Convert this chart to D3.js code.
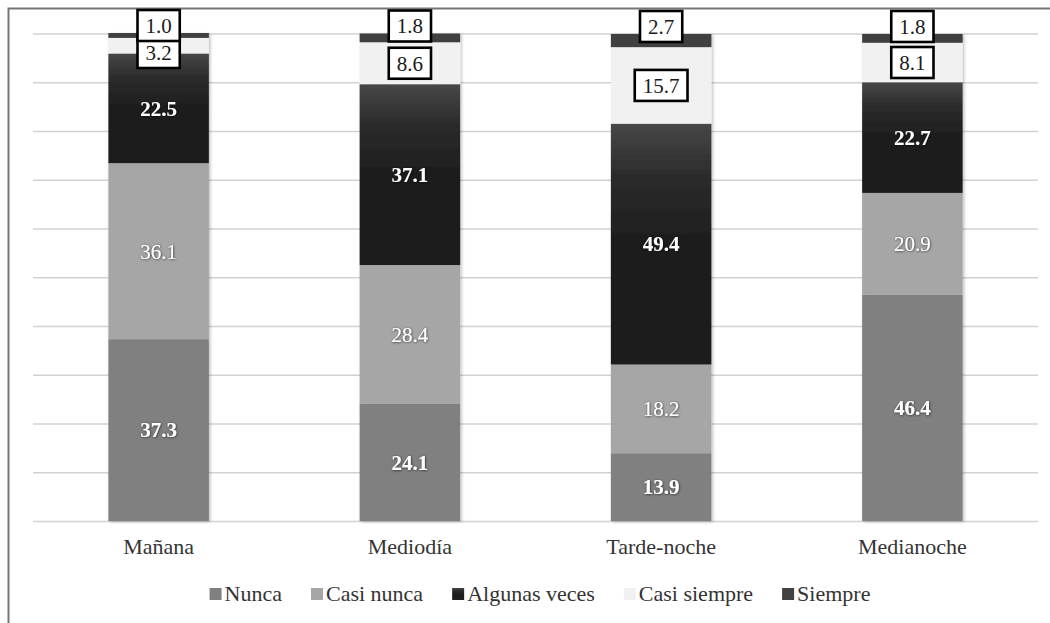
<!DOCTYPE html>
<html>
<head>
<meta charset="utf-8">
<script src="https://cdn.jsdelivr.net/npm/d3@7"></script>
<style>
  html, body { margin: 0; padding: 0; background: #ffffff; }
  svg { display: block; }
  text { font-family: "Liberation Serif", "Times New Roman", serif; }
</style>
</head>
<body>
<svg id="chart" width="1050" height="623"></svg>
<script>
// Time-of-day categories on the x axis
const categories = ["Mañana", "Mediodía", "Tarde-noche", "Medianoche"];

// Response frequencies (%) for each category, bottom to top
const nunca        = [37.3, 24.1, 13.9, 46.4];
const casiNunca    = [36.1, 28.4, 18.2, 20.9];
const algunasVeces = [22.5, 37.1, 49.4, 22.7];
const casiSiempre  = [3.2, 8.6, 15.7, 8.1];
const siempre      = [1.0, 1.8, 2.7, 1.8];

const seriesNames = ["Nunca", "Casi nunca", "Algunas veces", "Casi siempre", "Siempre"];
const seriesValues = [nunca, casiNunca, algunasVeces, casiSiempre, siempre];

// Gridline tick values (%)
const yTicks = [0, 10, 20, 30, 40, 50, 60, 70, 80, 90, 100];

const W = 1050, H = 623;
const plot = { left: 33, right: 1038, top: 33.5, bottom: 521 };

const svg = d3.select("#chart");
const defs = svg.append("defs");

// Dark vertical gradient for "Algunas veces"
const grad = defs.append("linearGradient")
  .attr("id", "gradDark").attr("x1", 0).attr("y1", 0).attr("x2", 0).attr("y2", 1);
grad.append("stop").attr("offset", "0%").attr("stop-color", "#474747");
grad.append("stop").attr("offset", "22%").attr("stop-color", "#2b2b2b");
grad.append("stop").attr("offset", "55%").attr("stop-color", "#1b1b1b");
grad.append("stop").attr("offset", "100%").attr("stop-color", "#1f1f1f");

// Soft shadow under the bars
const shadow = defs.append("filter").attr("id", "barShadow")
  .attr("x", "-10%").attr("y", "-10%").attr("width", "130%").attr("height", "130%");
shadow.append("feDropShadow").attr("dx", 1.5).attr("dy", 1).attr("stdDeviation", 1.5)
  .attr("flood-color", "#000").attr("flood-opacity", 0.25);

// Dark halo behind white value labels
const halo = defs.append("filter").attr("id", "textHalo")
  .attr("x", "-20%").attr("y", "-30%").attr("width", "140%").attr("height", "160%");
halo.append("feDropShadow").attr("dx", 0.5).attr("dy", 0.5).attr("stdDeviation", 1)
  .attr("flood-color", "#000").attr("flood-opacity", 0.7);

const fills = {
  "Nunca": "#808080",
  "Casi nunca": "#a6a6a6",
  "Algunas veces": "url(#gradDark)",
  "Casi siempre": "#f1f1f1",
  "Siempre": "#414141"
};

// Outer frame (left and top edges visible)
svg.append("rect")
  .attr("x", 8.5).attr("y", 8.5).attr("width", W + 20).attr("height", H + 20)
  .attr("fill", "none").attr("stroke", "#767676").attr("stroke-width", 2);

const x = d3.scaleBand()
  .domain(categories)
  .range([plot.left, plot.right])
  .paddingInner(0.6)
  .paddingOuter(0.3);

const y = d3.scaleLinear().domain([0, 100]).range([plot.bottom, plot.top]);

// Horizontal gridlines
const yAxis = d3.axisLeft(y).tickValues(yTicks)
  .tickSize(-(plot.right - plot.left)).tickFormat("");
const gy = svg.append("g").attr("transform", `translate(${plot.left},0)`).call(yAxis);
gy.select(".domain").remove();
gy.selectAll(".tick line").attr("stroke", "#d2d2d2").attr("stroke-width", 1.6);

// Category labels
const xAxis = d3.axisBottom(x).tickSize(0).tickPadding(0);
const gx = svg.append("g").attr("transform", `translate(0,${plot.bottom})`).call(xAxis);
gx.select(".domain").remove();
gx.selectAll(".tick text")
  .attr("y", 33).attr("dy", 0)
  .style("font-family", '"Liberation Serif", "Times New Roman", serif')
  .style("font-size", "22px").attr("fill", "#333333");

// Stack the series
const table = categories.map((c, i) => {
  const row = { category: c };
  seriesNames.forEach((s, k) => { row[s] = seriesValues[k][i]; });
  return row;
});
const stacked = d3.stack().keys(seriesNames)(table);

const barsG = svg.append("g").attr("filter", "url(#barShadow)");
stacked.forEach(layer => {
  barsG.selectAll(null)
    .data(layer)
    .join("rect")
    .attr("x", d => x(d.data.category))
    .attr("width", x.bandwidth())
    .attr("y", d => y(d[1]))
    .attr("height", d => y(d[0]) - y(d[1]))
    .attr("fill", fills[layer.key]);
});

// Value labels inside the lower three segments
const labelsG = svg.append("g");
const fontSize = 21;
stacked.slice(0, 3).forEach(layer => {
  labelsG.selectAll(null)
    .data(layer)
    .join("text")
    .attr("x", d => x(d.data.category) + x.bandwidth() / 2)
    .attr("y", d => (y(d[0]) + y(d[1])) / 2)
    .attr("dy", "0.35em")
    .attr("text-anchor", "middle")
    .attr("fill", "#ffffff")
    .attr("filter", "url(#textHalo)")
    .style("font-size", fontSize + "px")
    .style("font-weight", layer.key === "Casi nunca" ? "normal" : "bold")
    .text(d => d[1] - d[0] >= 0 ? (d.data[layer.key]).toFixed(1) : "");
});

// Boxed labels for the two top segments
const boxH = 31;
function boxedLabel(cx, cy, value) {
  const g = labelsG.append("g");
  const rect = g.append("rect");
  const t = g.append("text")
    .attr("x", cx).attr("y", cy).attr("dy", "0.35em")
    .attr("text-anchor", "middle").attr("fill", "#1a1a1a")
    .style("font-size", fontSize + "px")
    .text(value.toFixed(1));
  const tw = t.node().getComputedTextLength();
  const bw = tw + 16;
  rect.attr("x", cx - bw / 2).attr("y", cy - boxH / 2)
    .attr("width", bw).attr("height", boxH)
    .attr("fill", "#ffffff").attr("stroke", "#000000").attr("stroke-width", 2.6);
}

const casiLayer = stacked[3];
const siempreLayer = stacked[4];
categories.forEach((c, i) => {
  const cx = x(c) + x.bandwidth() / 2;
  const s = siempreLayer[i];
  const sCenter = y(s[1]) - 7.5;
  const cs = casiLayer[i];
  let cCenter = (y(cs[0]) + y(cs[1])) / 2;
  const minCenter = sCenter + boxH / 2 + boxH / 2 - 4;
  if (cCenter < minCenter) cCenter = minCenter;
  boxedLabel(cx, cCenter, casiSiempre[i]);
  boxedLabel(cx, sCenter, siempre[i]);
});

// Legend
const legendG = svg.append("g");
const sq = 12, gapText = 3, gapItem = 29;
let lx = 0;
seriesNames.forEach(name => {
  const item = legendG.append("g").attr("transform", `translate(${lx},0)`);
  item.append("rect").attr("x", 0).attr("y", -13).attr("width", sq).attr("height", sq)
    .attr("fill", fills[name]);
  const t = item.append("text").attr("x", sq + gapText).attr("y", 0)
    .style("font-size", "22px").attr("fill", "#333333").text(name);
  lx += sq + gapText + t.node().getComputedTextLength() + gapItem;
});
const legendW = lx - gapItem;
legendG.attr("transform", `translate(${540 - legendW / 2},601)`);
</script>
</body>
</html>
